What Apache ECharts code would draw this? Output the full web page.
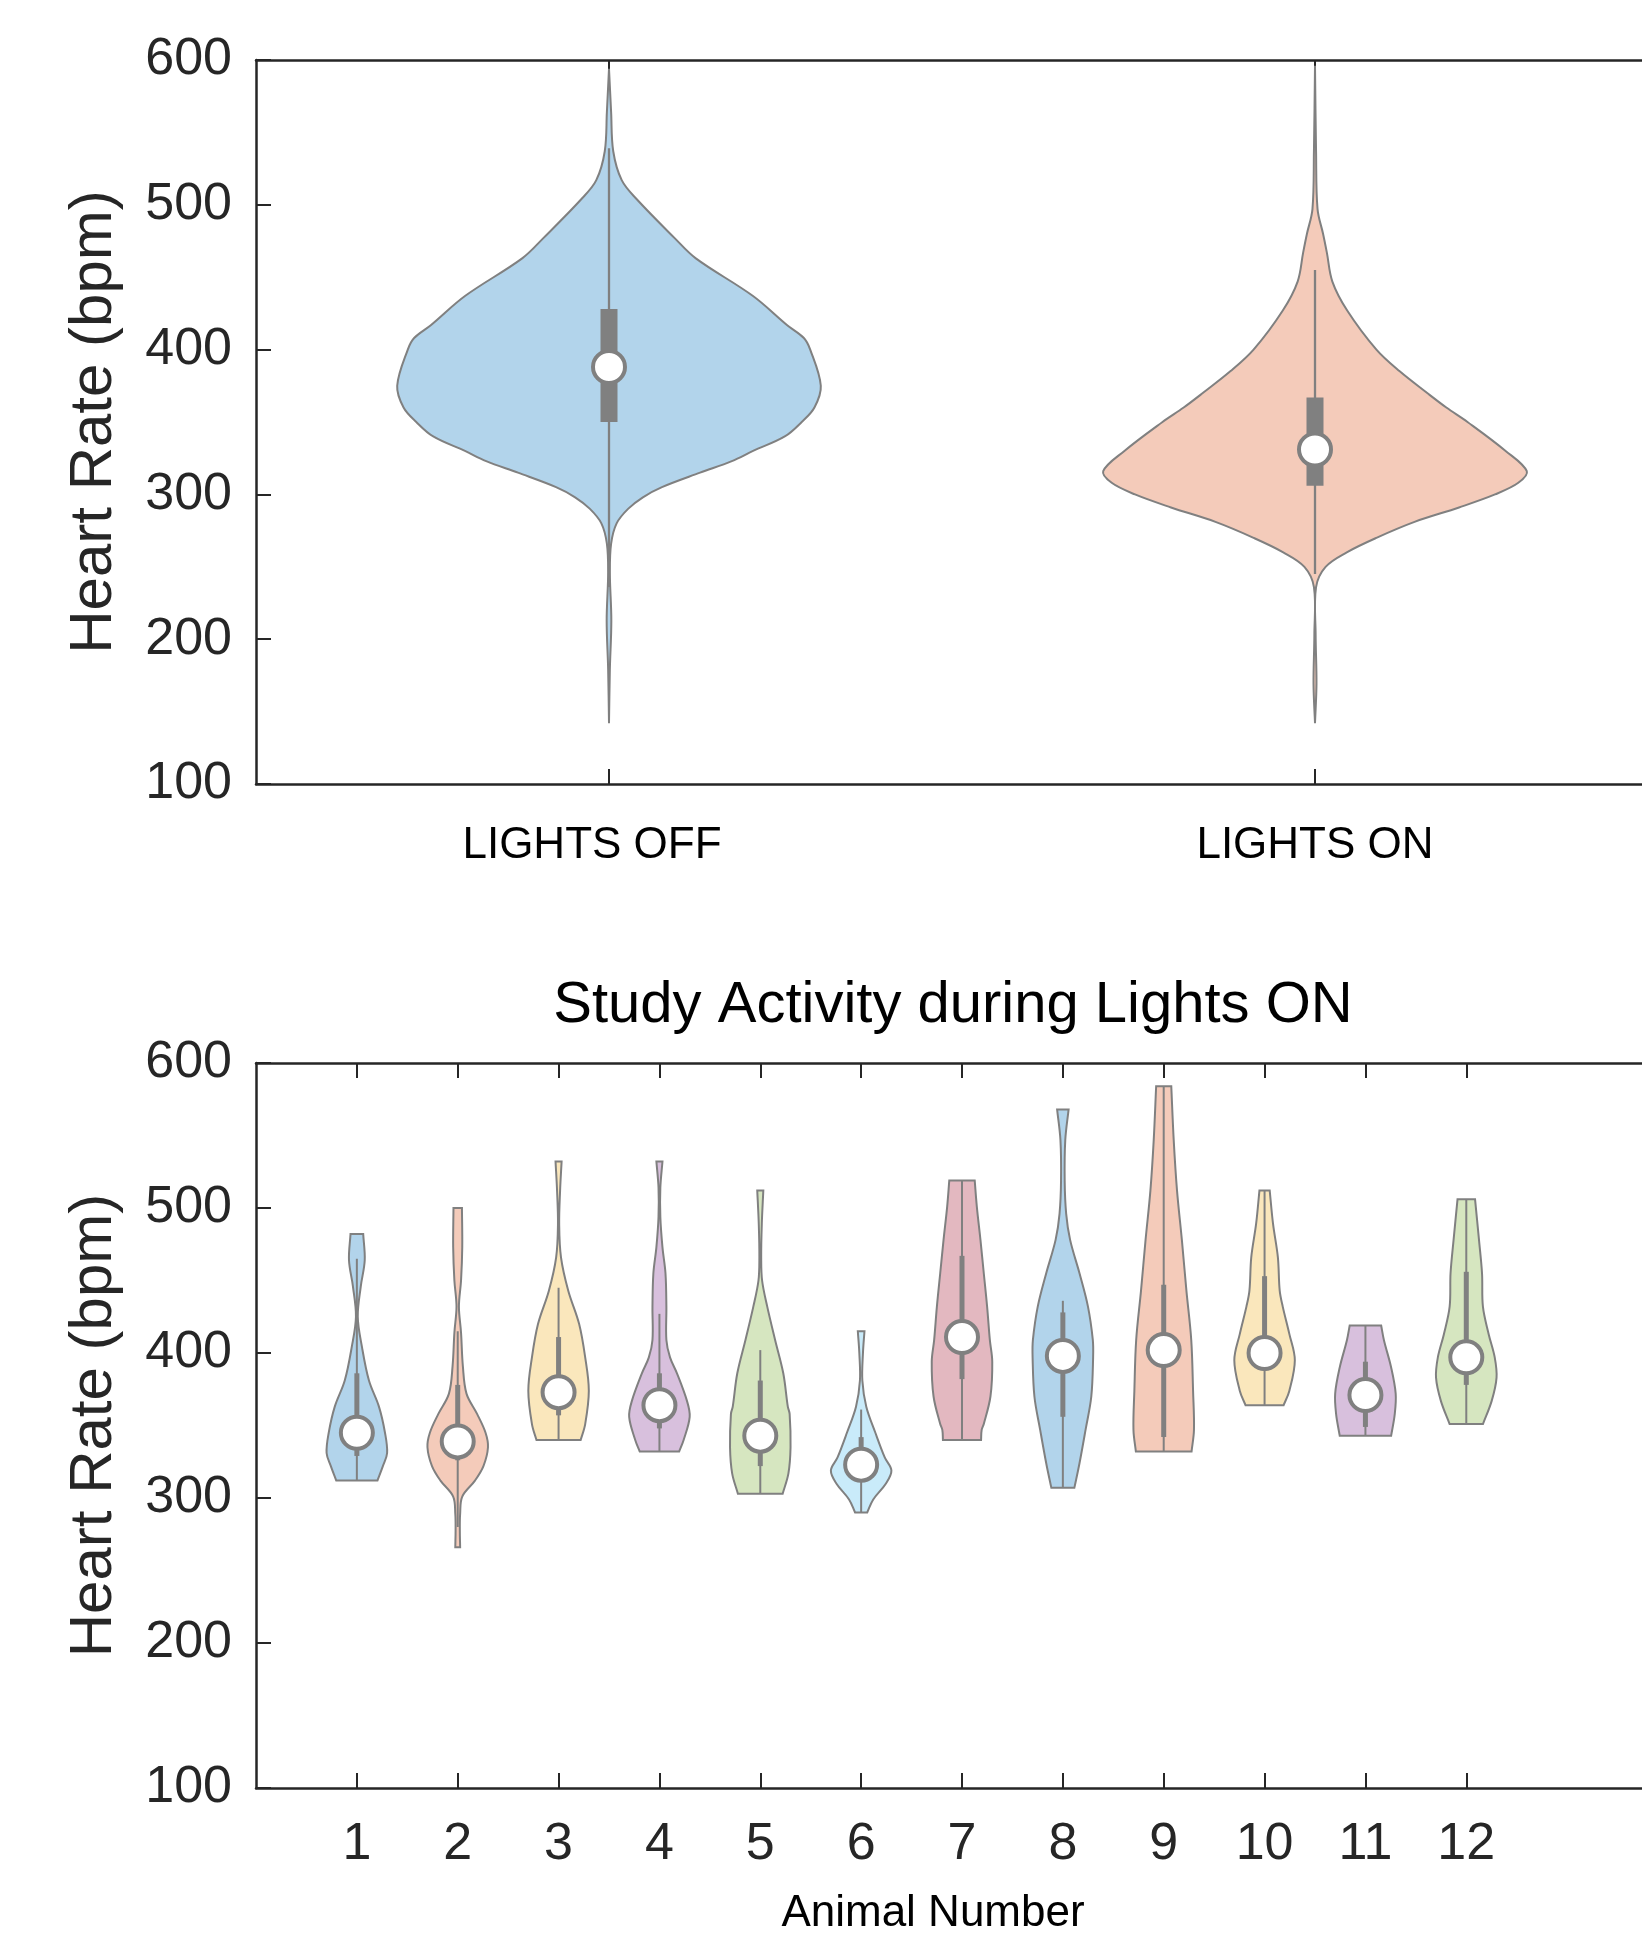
<!DOCTYPE html>
<html>
<head>
<meta charset="utf-8">
<script src="https://cdn.jsdelivr.net/npm/echarts@6/dist/echarts.min.js"></script>
<style>
  html, body { margin: 0; padding: 0; background: #fff; }
  #main { width: 1642px; height: 1933px; }
</style>
</head>
<body>
<div id="main"></div>
<script>
// ---- data ----
var conditions = ['LIGHTS OFF', 'LIGHTS ON'];
var animals = ['1', '2', '3', '4', '5', '6', '7', '8', '9', '10', '11', '12'];

// violin outlines: heart-rate values (top to bottom) and relative half-width (1 = widest)
var offVals = [594, 564, 537, 517, 504, 477, 463, 437, 417, 408, 400, 375, 360, 350, 340, 330, 323, 315, 305, 298, 290, 280, 266, 246, 213, 179, 142];
var offDens = [0, 0.01, 0.02, 0.06, 0.13, 0.31, 0.41, 0.68, 0.84, 0.92, 0.95, 1.0, 0.97, 0.91, 0.83, 0.68, 0.58, 0.43, 0.25, 0.16, 0.09, 0.036, 0.01, 0.004, 0.011, 0.004, 0];
var onVals = [596, 537, 497, 480, 467, 447, 427, 400, 385, 370, 360, 350, 330, 316, 308, 300, 291, 281, 270, 260, 250, 236, 203, 169, 142];
var onDens = [0, 0.005, 0.012, 0.038, 0.056, 0.082, 0.152, 0.29, 0.4, 0.53, 0.62, 0.72, 0.9, 1.0, 0.96, 0.85, 0.68, 0.47, 0.29, 0.15, 0.05, 0.005, 0.003, 0.007, 0];

// [lower whisker, q1, median, q3, upper whisker]
var offStats = [236, 350, 388, 428, 539];
var onStats = [245, 306, 331, 367, 455];

var animalVals = [
  [482, 464, 446, 425, 404, 381, 363, 345, 331, 322, 312],
  [500, 473, 450, 432, 414, 391, 372, 358, 345, 335, 322, 312, 301, 289, 278, 266],
  [532, 512, 489, 466, 443, 420, 397, 374, 351, 340],
  [532, 514, 494, 473, 455, 432, 409, 397, 386, 367, 356, 340, 332],
  [512, 489, 466, 450, 432, 409, 386, 363, 358, 335, 317, 303],
  [415, 400, 381, 363, 345, 328, 319, 310, 299, 290],
  [519, 501, 478, 455, 432, 409, 394, 370, 351, 347, 340],
  [568, 547, 519, 496, 478, 455, 432, 409, 397, 370, 347, 324, 307],
  [584, 547, 512, 478, 443, 409, 374, 347, 332],
  [512, 489, 466, 443, 432, 413, 395, 374, 364],
  [419, 409, 390, 372, 358, 343],
  [506, 478, 455, 432, 413, 397, 383, 367, 351]
];
var animalDens = [
  [0.21, 0.26, 0.13, 0.03, 0.17, 0.40, 0.73, 0.93, 1.0, 0.86, 0.68],
  [0.14, 0.15, 0.11, 0.04, 0.11, 0.17, 0.29, 0.64, 0.92, 1.0, 0.85, 0.57, 0.15, 0.08, 0.07, 0.08],
  [0.1, 0.05, 0.02, 0.08, 0.32, 0.68, 0.88, 1.0, 0.88, 0.73],
  [0.1, 0.03, 0.03, 0.1, 0.2, 0.23, 0.23, 0.35, 0.58, 0.91, 1.0, 0.8, 0.65],
  [0.1, 0.05, 0.03, 0.06, 0.23, 0.49, 0.76, 0.91, 0.97, 1.0, 0.93, 0.74],
  [0.11, 0.06, 0.04, 0.17, 0.47, 0.78, 1.0, 0.82, 0.4, 0.2],
  [0.42, 0.49, 0.61, 0.72, 0.83, 0.92, 1.0, 0.94, 0.72, 0.65, 0.63],
  [0.19, 0.08, 0.06, 0.11, 0.24, 0.55, 0.83, 0.99, 1.0, 0.94, 0.75, 0.55, 0.38],
  [0.25, 0.33, 0.44, 0.6, 0.75, 0.91, 0.97, 1.0, 0.92],
  [0.17, 0.28, 0.44, 0.5, 0.6, 0.82, 1.0, 0.82, 0.63],
  [0.52, 0.61, 0.85, 1.0, 0.97, 0.85],
  [0.29, 0.42, 0.52, 0.55, 0.74, 0.94, 1.0, 0.84, 0.55]
];
var animalStats = [
  [312, 329, 345, 386, 465],
  [280, 326, 339, 378, 415],
  [340, 357, 373, 411, 445],
  [332, 348, 364, 386, 427],
  [303, 322, 343, 381, 402],
  [290, 315, 323, 342, 361],
  [340, 382, 411, 467, 519],
  [307, 356, 398, 428, 436],
  [332, 342, 402, 447, 584],
  [364, 388, 400, 453, 512],
  [343, 349, 371, 394, 419],
  [351, 378, 397, 456, 506]
];

// matlab default line colours, drawn at 30% alpha
var topColors = ['rgba(0,114,189,0.3)', 'rgba(217,83,25,0.3)'];
var animalColors = ['rgba(0,114,189,0.3)', 'rgba(217,83,25,0.3)', 'rgba(237,177,32,0.3)', 'rgba(126,47,142,0.3)',
  'rgba(119,172,48,0.3)', 'rgba(77,190,238,0.3)', 'rgba(162,20,47,0.3)', 'rgba(0,114,189,0.3)',
  'rgba(217,83,25,0.3)', 'rgba(237,177,32,0.3)', 'rgba(126,47,142,0.3)', 'rgba(119,172,48,0.3)'];

var FONT = "'Liberation Sans', Arial, sans-serif";
var INK = '#262626';
var GRAY = '#808080';

var chart = echarts.init(document.getElementById('main'), null, { renderer: 'canvas' });

// renderItem for a violin + box + median marker
function violinRenderer(valsList, densList, statsList, colors, boxW, whiskW) {
  return function (params, api) {
    var i = params.dataIndex;
    var cat = api.value(0);
    var vals = valsList[i], dens = densList[i], st = statsList[i];
    var step = Math.abs(api.coord([1, 300])[0] - api.coord([0, 300])[0]);
    var maxHalf = 0.3 * step;
    var left = [], right = [];
    for (var k = 0; k < vals.length; k++) {
      var p = api.coord([cat, vals[k]]);
      left.push([p[0] - dens[k] * maxHalf, p[1]]);
      right.push([p[0] + dens[k] * maxHalf, p[1]]);
    }
    var n = left.length - 1;
    var pts = [left[0]].concat(left, [left[n], right[n]]);
    for (var m = n; m >= 0; m--) pts.push(right[m]);
    pts.push(right[0]);

    var lo = api.coord([cat, st[0]]), q1 = api.coord([cat, st[1]]);
    var md = api.coord([cat, st[2]]), q3 = api.coord([cat, st[3]]), hi = api.coord([cat, st[4]]);
    return {
      type: 'group',
      children: [
        { type: 'polygon', shape: { points: pts, smooth: 0.35 },
          style: { fill: colors[i], stroke: GRAY, lineWidth: 2 } },
        { type: 'line', shape: { x1: md[0], y1: hi[1], x2: md[0], y2: lo[1] },
          style: { stroke: GRAY, lineWidth: whiskW } },
        { type: 'rect', shape: { x: md[0] - boxW / 2, y: q3[1], width: boxW, height: q1[1] - q3[1] },
          style: { fill: GRAY } },
        { type: 'circle', shape: { cx: md[0], cy: md[1], r: 16 },
          style: { fill: '#fff', stroke: GRAY, lineWidth: 4 } }
      ]
    };
  };
}

var lineSty = { color: INK, width: 2.5 };
var tickSty = { show: true, inside: true, length: 15, lineStyle: { color: INK, width: 2 } };

function yAxisFor(g) {
  return {
    gridIndex: g, type: 'value', min: 100, max: 600, interval: 100,
    axisLine: { show: true, lineStyle: lineSty },
    axisTick: tickSty,
    splitLine: { show: false },
    axisLabel: { fontSize: 52, color: INK, fontFamily: FONT, margin: 24 },
    name: 'Heart Rate (bpm)', nameLocation: 'middle', nameGap: 132,
    nameTextStyle: { fontSize: 60, color: INK, fontFamily: FONT }
  };
}

var animalAxisData = [''].concat(animals, ['', '']);
var keepTick = function (idx, val) { return val !== ''; };

var option = {
  animation: false,
  backgroundColor: '#fff',
  grid: [
    { left: 256, top: 60, width: 1412, height: 724, outerBoundsMode: 'none', containLabel: false },
    { left: 256, top: 1063, width: 1412, height: 725, outerBoundsMode: 'none', containLabel: false }
  ],
  xAxis: [
    { gridIndex: 0, type: 'category', data: conditions, boundaryGap: true, position: 'bottom',
      axisLine: { lineStyle: lineSty },
      axisTick: Object.assign({ alignWithLabel: true }, tickSty),
      axisLabel: { fontSize: 44, color: '#000', fontFamily: FONT, margin: 40,
        formatter: function (v, i) { return i === 0 ? '{off|' + v + '}' : v; },
        rich: { off: { fontSize: 44, color: '#000', fontFamily: FONT, padding: [0, 34, 0, 0] } } } },
    { gridIndex: 0, type: 'category', data: conditions, boundaryGap: true, position: 'top',
      axisLine: { lineStyle: lineSty },
      axisTick: Object.assign({ alignWithLabel: true }, tickSty),
      axisLabel: { show: false } },
    { gridIndex: 1, type: 'category', data: animalAxisData, boundaryGap: false, position: 'bottom',
      axisLine: { lineStyle: lineSty },
      axisTick: Object.assign({ interval: keepTick }, tickSty),
      axisLabel: { interval: 0, fontSize: 52, color: INK, fontFamily: FONT, margin: 31 } },
    { gridIndex: 1, type: 'category', data: animalAxisData, boundaryGap: false, position: 'top',
      axisLine: { lineStyle: lineSty },
      axisTick: Object.assign({ interval: keepTick }, tickSty),
      axisLabel: { show: false } }
  ],
  yAxis: [yAxisFor(0), yAxisFor(1)],
  graphic: [
    { type: 'text', x: 953, y: 1006,
      style: { text: 'Study Activity during Lights ON', fontSize: 58, fontFamily: FONT, fill: '#000',
        textAlign: 'center', textVerticalAlign: 'middle' } },
    { type: 'text', x: 933, y: 1914,
      style: { text: 'Animal Number', fontSize: 44, fontFamily: FONT, fill: '#000',
        textAlign: 'center', textVerticalAlign: 'middle' } }
  ],
  series: [
    { type: 'custom', xAxisIndex: 0, yAxisIndex: 0,
      renderItem: violinRenderer([offVals, onVals], [offDens, onDens], [offStats, onStats], topColors, 17, 2.3),
      data: conditions.map(function (c, i) { return [i, [offStats, onStats][i][2]]; }) },
    { type: 'custom', xAxisIndex: 2, yAxisIndex: 1,
      renderItem: violinRenderer(animalVals, animalDens, animalStats, animalColors, 5, 2),
      data: animals.map(function (a, i) { return [i + 1, animalStats[i][2]]; }) }
  ]
};

chart.setOption(option);
</script>
</body>
</html>
